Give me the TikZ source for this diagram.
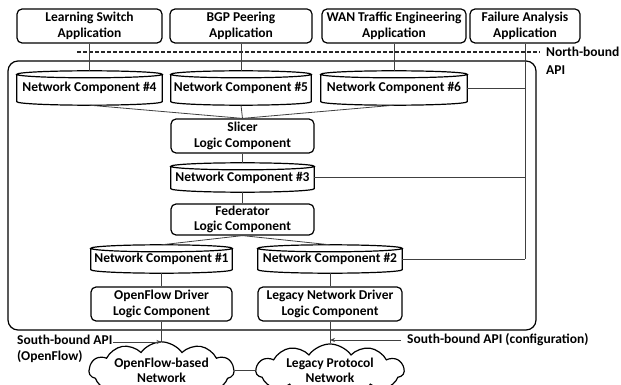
\documentclass[tikz,border=0pt]{standalone}
\usepackage{fontspec}
\setmainfont{Carlito}
\usetikzlibrary{calc,shapes.symbols,arrows.meta}

% outline of a storage drum around a (borderless) node
\newcommand\drawdrum[1]{%
  \draw[edge] let \p1=(#1.north west), \p2=(#1.south east), \n1={(\x2-\x1)/2} in
    (\x1,\y1-3.5pt) -- (\x1,\y2+3.5pt)
      arc[start angle=180, end angle=360, x radius=\n1, y radius=3.5pt]
      -- (\x2,\y1-3.5pt)
    ({(\x1+\x2)/2},\y1-3.5pt) ellipse[x radius=\n1, y radius=3.5pt];
}

\begin{document}
\begin{tikzpicture}[x=1pt, y=-1pt,
  font=\fontsize{13.5}{15.5}\selectfont\bfseries,
  edge/.style={line width=1.2pt, draw=black},
  box/.style={edge, rounded corners=5pt, align=center, inner sep=0pt, minimum height=34pt},
  drum/.style={inner sep=0pt, minimum height=34pt},
  frame/.style={edge, rounded corners=10pt, inner sep=0pt},
  link/.style={draw=black!75, line width=0.8pt},
  api/.style={draw=black!85, line width=1.2pt, dash pattern=on 4pt off 2pt},
  tag/.style={inner sep=0pt, align=left},
  net/.style={cloud, edge, cloud puffs=11, cloud puff arc=110, aspect=3.4,
    inner sep=0pt, align=center},
  tip/.style={-{Stealth[length=5pt, width=4pt]}}
]
\useasboundingbox (0,0) rectangle (621,385);

% controller frame
\node[frame, minimum width=528pt, minimum height=269pt] (ctrl) at (272,195.5) {};

% applications
\node[box, minimum width=145pt] (app1) at (89.5,26) {Learning Switch\\Application};
\node[box, minimum width=142pt] (app2) at (241,26) {BGP Peering\\Application};
\node[box, minimum width=144pt] (app3) at (394,26) {WAN Traffic Engineering\\Application};
\node[box, minimum width=110pt] (app4) at (525,26) {Failure Analysis\\Application};

% north-bound API
\node[tag, anchor=west, font=\fontsize{13.5}{18}\selectfont\bfseries] (nb) at (546,61) {North-bound\\API};
\coordinate (dl) at (77,52);
\draw[api] (dl) -- ([xshift=-6pt]dl -| nb.west);

% network components
\node[drum, minimum width=145pt] (c4) at (89.5,88) {Network Component \#4};
\node[drum, minimum width=140pt] (c5) at (241,88) {Network Component \#5};
\node[drum, minimum width=146pt] (c6) at (394,88) {Network Component \#6};
\node[drum, minimum width=143pt, minimum height=29pt] (c3) at (242.5,177.5) {Network Component \#3};
\node[drum, minimum width=141pt, minimum height=28pt] (c1) at (161.5,259) {Network Component \#1};
\node[drum, minimum width=144pt, minimum height=28pt] (c2) at (330,259) {Network Component \#2};
\drawdrum{c1}\drawdrum{c2}\drawdrum{c3}\drawdrum{c4}\drawdrum{c5}\drawdrum{c6}

% logic components
\node[box, minimum width=143pt] (slicer) at (242.5,136) {Slicer\\Logic Component};
\node[box, minimum width=143pt, minimum height=31pt] (fed) at (242.5,219.5) {Federator\\Logic Component};
\node[box, minimum width=141pt] (ofd) at (161.5,304) {OpenFlow Driver\\Logic Component};
\node[box, minimum width=144pt] (lnd) at (330,304) {Legacy Network Driver\\Logic Component};

% networks
\node[net, minimum width=145pt, minimum height=40pt] (n1) at (161.5,370.5) {OpenFlow-based\\Network};
\node[net, minimum width=148pt, minimum height=40pt] (n2) at (330,370.5) {Legacy Protocol\\Network};

% connectors
\draw[link] (app1.south) -- (c4.north);
\draw[link] (app2.south) -- (c5.north);
\draw[link] (app3.south) -- (c6.north);
\coordinate (fa) at (app4.south |- c2.east);
\draw[link] (app4.south) -- (fa);
\draw[link] (c6.east) -- (c6.east -| fa);
\draw[link] (c3.east) -- (c3.east -| fa);
\draw[link] (c2.east) -- (fa);
\foreach \k in {c4,c5,c6} {\draw[link] (\k.south) -- (slicer.north);}
\draw[link] (slicer.south) -- (c3.north);
\draw[link] (c3.south) -- (fed.north);
\draw[link] (fed.south) -- (c1.north);
\draw[link] (fed.south) -- (c2.north);
\draw[link] (c1.south) -- (ofd.north);
\draw[link] (c2.south) -- (lnd.north);
\draw[link] (ofd.south) -- (n1.north);
\draw[link] (lnd.south) -- (n2.north);
\draw[link] (n1.east) -- (n2.west);

% south-bound API labels
\node[tag, anchor=north west, font=\fontsize{13.5}{16}\selectfont\bfseries] (sbl) at (17,335) {South-bound API\\(OpenFlow)};
\coordinate (al) at (113,342);
\draw[link, tip] (al) -- (al -| ofd.south);
\node[tag, anchor=west] (sbr) at (407,340) {South-bound API (configuration)};
\draw[link, tip] ([xshift=-6pt]sbr.west) -- (sbr.west -| lnd.south);
\end{tikzpicture}
\end{document}
